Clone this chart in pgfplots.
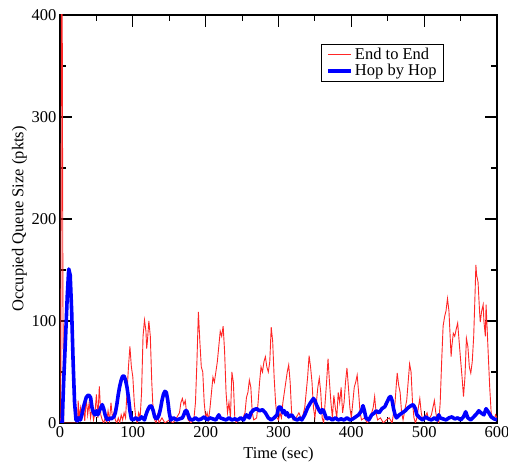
\documentclass[border=0pt]{standalone}
\usepackage{fontspec}
\setmainfont{Liberation Serif}
\usepackage{pgfplots}
\pgfplotsset{compat=1.18}

\pgfplotstableread{
t q
0 0
1 5
2 420
3 420
4 120
5 0
10 0
20 0
24 0
25 22
26 3
28 15
30 5
32 18
34 2
36 25
38 8
40 20
42 5
44 15
46 3
48 10
50 28
52 5
54 36
56 8
58 3
60 0
62 5
64 0
66 12
68 2
70 20
72 5
74 10
76 3
78 0
80 5
82 0
84 8
86 3
88 10
90 5
92 30
94 55
96 75
98 55
100 45
102 20
104 5
106 0
108 10
110 5
112 30
114 85
116 101
118 90
119 73
120 80
122 100
124 85
126 40
128 10
130 3
132 0
134 8
136 0
140 5
144 0
150 3
155 0
160 5
164 10
166 20
168 24
170 18
172 22
174 8
176 3
180 0
184 5
186 20
188 60
190 109
192 80
194 55
196 50
198 20
200 5
202 10
204 3
206 15
208 30
210 45
212 40
214 50
216 60
218 75
220 90
222 85
224 95
226 70
228 30
230 10
232 20
234 5
236 50
238 40
240 5
242 0
246 5
250 3
254 10
256 25
258 30
260 42
262 35
264 10
266 3
270 5
272 20
274 40
276 55
278 50
280 60
282 65
284 55
286 50
288 60
290 94
292 80
294 45
296 20
298 5
300 3
302 10
304 5
306 20
308 30
310 40
312 50
314 57
316 40
318 10
320 3
324 5
328 10
332 3
336 15
338 30
340 45
342 66
344 55
346 40
348 15
350 5
352 20
354 35
356 44
358 30
360 5
362 0
364 20
366 40
368 63
370 40
372 20
374 5
376 27
378 15
380 5
382 30
384 20
386 35
388 10
390 20
392 40
394 54
396 35
398 15
400 5
402 20
404 35
406 40
408 47
410 30
412 10
414 3
418 5
422 0
426 5
430 15
432 26
434 10
436 3
440 5
444 0
448 3
452 5
456 0
458 10
460 20
462 40
463 49
465 37
467 30
469 10
471 3
474 15
476 22
478 40
480 58
482 50
484 20
486 5
488 0
490 5
492 15
494 24
496 10
498 3
500 5
504 10
506 3
510 8
514 22
516 10
518 3
520 0
522 20
524 60
526 95
528 104
530 110
532 122
534 110
536 80
537 65
538 75
540 88
542 85
544 92
546 98
548 80
550 62
552 45
554 26
556 45
558 83
560 75
562 55
564 49
566 60
568 85
570 130
571 155
572 145
574 138
576 110
577 99
579 110
581 116
582 100
584 85
585 116
586 100
588 67
590 35
592 10
594 5
596 3
598 8
600 5
}\endtoend

\pgfplotstableread{
t q
0 0
3 0
5 40
8 90
10 125
12 151
14 145
16 110
18 60
20 20
22 3
24 2
26 5
28 3
30 8
32 15
34 20
36 25
38 27
40 27
42 25
44 15
46 10
48 8
50 12
52 8
54 12
56 15
58 18
60 14
62 8
64 4
66 3
68 5
70 4
72 5
74 6
76 10
78 18
80 28
82 36
84 42
86 46
88 46
90 42
92 35
94 25
96 12
98 4
100 3
104 5
108 3
112 6
116 3
118 8
120 12
122 15
124 17
126 16
128 12
130 6
132 4
134 5
136 8
138 14
140 22
142 28
144 31
146 30
148 22
150 10
152 3
156 5
160 3
164 4
168 5
170 8
172 12
174 12
176 8
178 4
182 3
186 5
190 3
194 4
198 6
202 3
206 5
210 4
214 3
218 8
220 5
224 4
228 3
232 5
236 3
240 4
244 3
248 5
252 3
256 8
260 5
262 10
266 13
270 14
274 12
278 13
282 10
286 5
290 3
294 5
298 8
300 15
302 16
304 14
306 10
308 12
310 8
312 10
314 6
318 8
322 4
326 3
330 5
332 3
336 8
340 15
344 20
348 24
350 22
352 18
354 15
356 12
358 10
360 13
362 12
364 8
366 4
370 5
374 3
378 5
382 3
386 4
390 3
394 5
398 3
402 4
406 6
410 8
414 12
416 17
418 12
420 5
424 3
428 8
432 10
434 12
438 10
442 14
446 16
450 22
452 25
454 26
456 22
458 14
460 8
462 5
466 8
470 10
474 12
478 15
482 17
485 18
488 14
490 8
494 5
498 3
502 6
506 4
510 3
514 5
518 3
520 8
522 5
526 4
530 3
534 5
538 6
542 4
546 5
550 3
554 6
557 11
560 5
564 3
568 6
572 9
575 12
578 10
582 8
585 14
588 11
592 6
596 4
600 3
}\hopbyhop

\begin{document}
\begin{tikzpicture}
\begin{axis}[
  scale only axis,
  width=437pt, height=408pt,
  xmin=0, xmax=600, ymin=0, ymax=400,
  xtick={0,100,...,600}, ytick={0,100,...,400},
  minor tick num=1,
  tick align=inside, xtick pos=both, ytick pos=both,
  major tick length=12pt, minor tick length=6pt,
  every tick/.style={black, line width=1.1pt},
  axis line style={line width=1.2pt},
  font=\fontsize{16.5}{19}\selectfont,
  /pgf/number format/assume math mode=true,
  xlabel={Time (sec)}, ylabel={Occupied Queue Size (pkts)},
  xlabel style={yshift=-3pt},
  ylabel style={yshift=-2pt},
  legend cell align=left,
  legend style={at={(0.597,0.929)}, anchor=north west, draw=black, line width=1pt,
    inner xsep=5pt, inner ysep=2pt, row sep=-1pt,
    font=\fontsize{16.5}{19}\selectfont},
  legend image code/.code={\draw[#1] (0pt,0pt) -- (23pt,0pt);},
]
\addplot[red!85, line width=0.9pt] table[x=t, y=q] {\endtoend};
\addlegendentry{End to End}
\addplot[blue, line width=3.6pt, line join=round] table[x=t, y=q] {\hopbyhop};
\addlegendentry{Hop by Hop}
\end{axis}
\pgfresetboundingbox
\path[use as bounding box] ([shift={(-60pt,-39pt)}]current axis.south west) rectangle ([shift={(11pt,15pt)}]current axis.north east);
\end{tikzpicture}
\end{document}
